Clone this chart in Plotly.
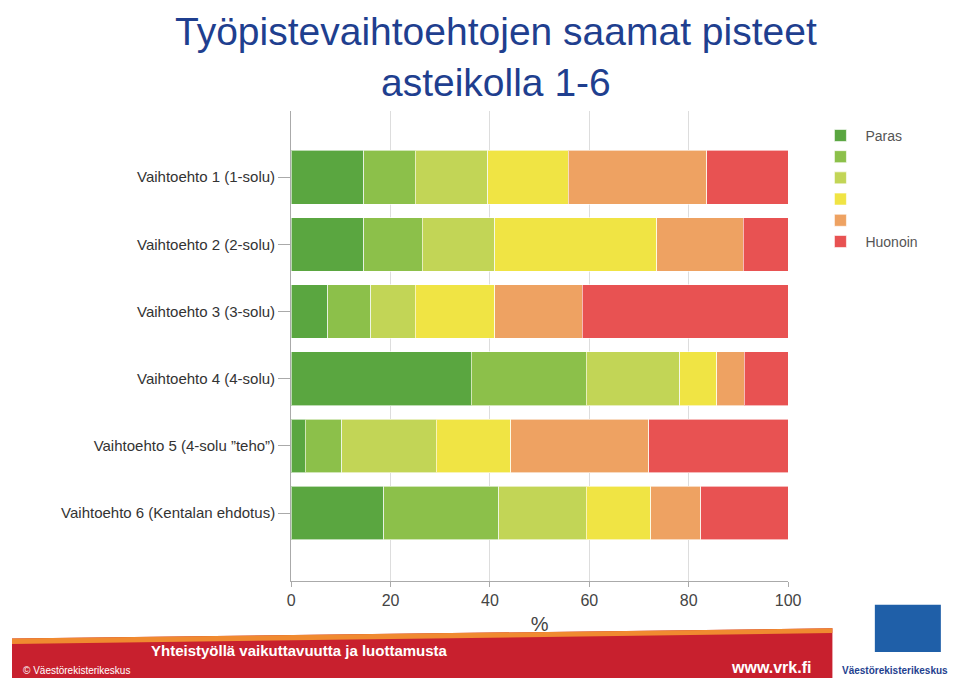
import plotly.graph_objects as go

categories = ["Vaihtoehto 1 (1-solu)", "Vaihtoehto 2 (2-solu)", "Vaihtoehto 3 (3-solu)",
              "Vaihtoehto 4 (4-solu)", "Vaihtoehto 5 (4-solu \u201dteho\u201d)", "Vaihtoehto 6 (Kentalan ehdotus)"]
s1 = [14.6, 14.6, 7.4, 36.2, 2.8, 18.6]
s2 = [10.4, 11.8, 8.6, 23.2, 7.4, 23.2]
s3 = [14.6, 14.6, 9.0, 18.8, 19.0, 17.6]
s4 = [16.2, 32.6, 16.0, 7.4, 15.0, 13.0]
s5 = [27.8, 17.4, 17.6, 5.6, 27.8, 10.0]
s6 = [16.4, 9.0, 41.4, 8.8, 28.0, 17.6]
series = [s1, s2, s3, s4, s5, s6]
names = ["Paras", " ", "  ", "   ", "    ", "Huonoin"]
colors = ["#5aa640", "#8cc04a", "#c2d556", "#f0e444", "#eea262", "#e85252"]
xticks = [0, 20, 40, 60, 80, 100]

ypos = list(range(len(categories)))
fig = go.Figure()
for vals, nm, c in zip(series, names, colors):
    fig.add_trace(go.Bar(y=ypos, x=vals, name=nm, orientation="h", width=0.8,
                         marker=dict(color=c, line=dict(color="rgba(255,255,255,0.6)", width=1))))

fig.update_layout(
    width=960, height=678, barmode="stack", plot_bgcolor="white", paper_bgcolor="white",
    margin=dict(l=0, r=0, t=0, b=0),
    font=dict(family="Liberation Sans, Arial", size=15, color="#333"),
    showlegend=True,
    legend=dict(x=0.852, y=0.835, xanchor="left", yanchor="top", traceorder="normal",
                font=dict(size=14, color="#555"), itemwidth=40, tracegroupgap=0),
    xaxis=dict(domain=[0.296, 0.823], range=[0, 100], tickvals=xticks, showgrid=True,
               gridcolor="#dddddd", showline=True, linecolor="#aaaaaa", ticks="outside",
               tickcolor="#aaaaaa", ticklen=5, tickfont=dict(size=16, color="#444"),
               zeroline=False, title=dict(text="%", font=dict(size=20, color="#444"), standoff=8)),
    yaxis=dict(domain=[0.155, 0.848], range=[5 + 1.01, -0.985], tickvals=ypos, ticktext=categories,
               showline=True, linecolor="#aaaaaa", ticks="outside", tickcolor="#aaaaaa", ticklen=12,
               showgrid=False, tickfont=dict(size=15, color="#333")),
)
fig.add_annotation(x=0.513, y=1.0, xref="paper", yref="paper", xanchor="center", yanchor="top",
                   showarrow=False, text="Työpistevaihtoehtojen saamat pisteet<br>asteikolla 1-6",
                   font=dict(size=39, color="#1f3f8f"))

# bottom banner
fig.add_shape(type="path", xref="paper", yref="paper",
              path="M 0 0.07 L 0.87 0.085 L 0.87 0.0 L 0 0.0 Z", fillcolor="#c8202e", line=dict(width=0), layer="below")
fig.add_shape(type="path", xref="paper", yref="paper",
              path="M 0 0.07 L 0.87 0.085 L 0.87 0.078 L 0 0.062 Z",
              fillcolor="#f08a30", line=dict(width=0), layer="below")
fig.add_annotation(x=0.145, y=0.068, xref="paper", yref="paper", xanchor="left", yanchor="top", showarrow=False,
                   text="<b>Yhteistyöllä vaikuttavuutta ja luottamusta</b>", font=dict(size=15, color="white"))
fig.add_annotation(x=0.01, y=0.012, xref="paper", yref="paper", xanchor="left", showarrow=False,
                   text="© Väestörekisterikeskus", font=dict(size=10, color="white"))
fig.add_annotation(x=0.76, y=0.012, xref="paper", yref="paper", xanchor="left", showarrow=False,
                   text="<b>www.vrk.fi</b>", font=dict(size=16, color="white"))
fig.add_annotation(x=0.995, y=0.012, xref="paper", yref="paper", xanchor="right", showarrow=False,
                   text="<b>Väestörekisterikeskus</b>", font=dict(size=10, color="#1f3f8f"))
fig.add_shape(type="rect", xref="paper", yref="paper", x0=0.915, x1=0.985, y0=0.05, y1=0.12,
              fillcolor="#1f5fa8", line=dict(width=0))

fig.write_html("out.html")
